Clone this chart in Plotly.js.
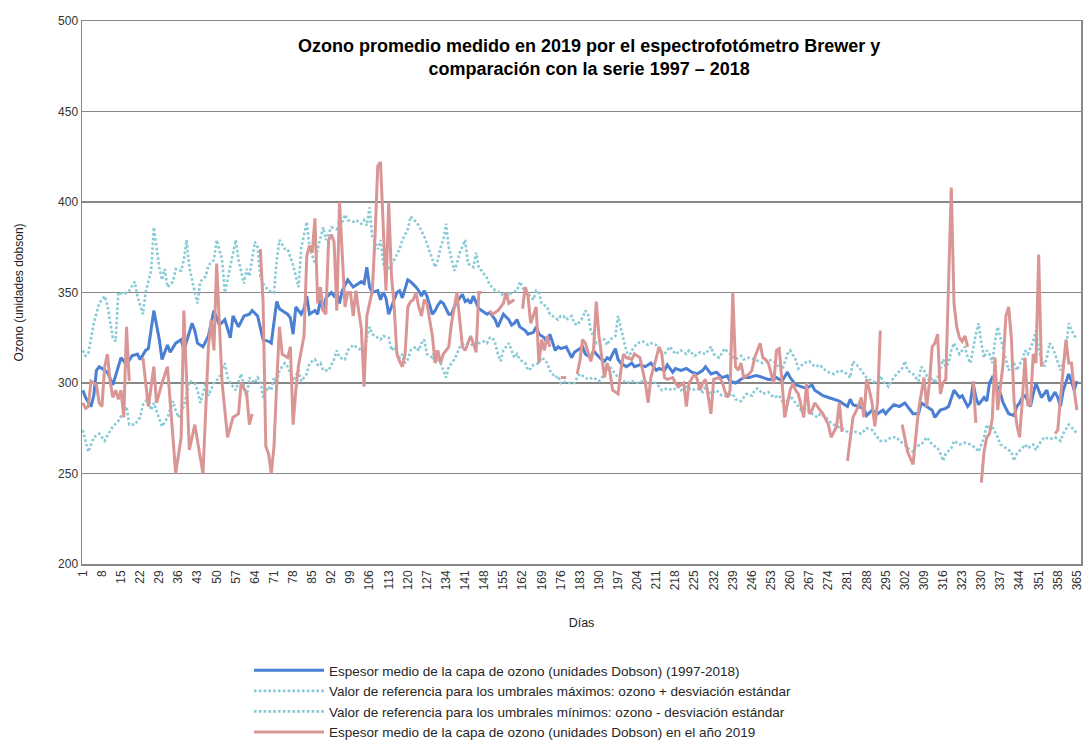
<!DOCTYPE html>
<html>
<head>
<meta charset="utf-8">
<script src="https://cdn.plot.ly/plotly-3.0.1.min.js"></script>
<style>html,body{margin:0;padding:0;background:#fff;}#chart{width:1085px;height:742px;}</style>
</head>
<body>
<div id="chart"></div>
<script>
// Tick labels of the day axis
const tickDays = [1,8,15,22,29,36,43,50,57,64,71,78,85,92,99,106,113,120,127,134,141,148,155,162,169,176,183,190,197,204,211,218,225,232,239,246,253,260,267,274,281,288,295,302,309,316,323,330,337,344,351,358,365];
const tickLabels = tickDays.map(String);

// Series names
const seriesNames = [
  'Espesor medio de la capa de ozono (unidades Dobson) (1997-2018)',
  'Valor de referencia para los umbrales máximos: ozono + desviación estándar',
  'Valor de referencia para los umbrales mínimos: ozono - desviación estándar',
  'Espesor medio de la capa de ozono (unidades Dobson) en el año 2019'
];

// [day, ozone DU]
const media19972018 = [[1,296],[2,292],[4,287],[5,293],[6,307],[7,309],[8,308],[10,306],[12,299],[14,309],[15,314],[17,310],[19,315],[21,316],[22,313],[24,318],[25,319],[27,340],[29,324],[30,313],[32,321],[33,317],[35,322],[37,324],[38,318],[41,333],[42,329],[43,322],[45,320],[47,326],[49,340],[51,332],[53,335],[55,325],[56,337],[58,331],[60,337],[62,338],[63,340],[65,337],[66,331],[67,324],[69,323],[70,322],[72,345],[73,341],[75,339],[76,338],[77,336],[78,327],[79,342],[81,338],[82,341],[83,348],[84,338],[86,340],[87,338],[88,346],[89,340],[90,347],[92,350],[93,348],[94,350],[95,344],[96,351],[98,357],[100,353],[101,354],[103,356],[104,355],[105,364],[106,353],[107,350],[109,351],[110,346],[111,350],[112,347],[113,338],[115,346],[116,350],[117,351],[118,347],[120,357],[121,356],[123,353],[124,351],[125,348],[126,351],[127,348],[129,338],[130,340],[131,343],[132,345],[133,344],[135,338],[136,338],[137,342],[138,345],[140,349],[141,345],[142,346],[143,344],[144,348],[146,341],[147,340],[149,338],[150,339],[152,335],[153,331],[154,335],[155,338],[157,335],[158,332],[159,333],[160,335],[161,331],[163,329],[164,327],[166,328],[167,331],[168,327],[170,325],[171,322],[172,327],[174,318],[175,320],[176,319],[178,320],[179,317],[180,314],[181,317],[183,319],[184,320],[185,316],[187,314],[188,318],[189,316],[191,313],[192,312],[193,314],[194,313],[196,319],[197,313],[198,311],[200,309],[201,310],[202,311],[203,309],[205,310],[207,309],[209,311],[211,307],[212,308],[214,307],[215,310],[217,306],[218,308],[220,307],[222,308],[224,306],[226,305],[228,307],[229,309],[231,305],[233,306],[235,303],[237,304],[238,301],[240,300],[241,301],[243,303],[245,303],[247,304],[248,304],[250,303],[252,302],[254,302],[255,303],[257,301],[259,306],[260,303],[262,299],[264,298],[266,297],[268,299],[269,296],[271,294],[272,293],[274,292],[276,291],[278,290],[279,289],[281,287],[282,291],[283,288],[285,287],[287,286],[288,282],[290,285],[292,283],[294,285],[295,283],[296,285],[298,288],[300,287],[302,289],[303,287],[305,283],[307,283],[308,289],[310,287],[312,285],[313,281],[315,285],[317,286],[318,287],[320,296],[321,294],[322,292],[323,293],[325,287],[326,289],[327,300],[328,292],[329,288],[331,292],[332,290],[333,300],[334,303],[335,301],[337,294],[338,289],[340,283],[342,282],[343,287],[344,289],[345,292],[346,293],[348,287],[349,294],[350,300],[351,296],[352,292],[353,294],[354,296],[355,290],[357,295],[358,292],[359,287],[360,296],[362,305],[363,301],[364,296],[365,301]];

const umbralMaximo = [[1,318],[2,315],[3,316],[5,333],[7,344],[9,348],[10,343],[12,325],[13,323],[14,350],[16,349],[18,351],[20,356],[21,348],[23,338],[24,350],[26,362],[27,386],[29,364],[30,357],[31,363],[32,353],[34,356],[35,363],[37,362],[38,368],[39,379],[40,364],[42,350],[43,344],[44,356],[46,359],[47,365],[49,368],[50,379],[52,368],[53,350],[55,364],[57,379],[58,368],[60,355],[61,363],[62,359],[64,378],[65,375],[66,359],[67,355],[69,351],[71,350],[72,368],[73,379],[75,374],[76,374],[78,365],[80,353],[81,375],[82,382],[83,389],[84,375],[86,366],[87,374],[88,380],[89,386],[90,379],[92,386],[94,385],[96,389],[97,393],[98,390],[100,389],[101,390],[103,388],[104,390],[105,387],[106,397],[107,381],[109,374],[110,379],[111,366],[112,361],[114,366],[115,368],[117,374],[118,379],[120,385],[121,392],[123,389],[124,387],[125,384],[126,381],[127,377],[129,368],[130,364],[131,368],[132,375],[133,379],[134,388],[135,375],[137,362],[138,366],[139,372],[141,379],[142,366],[144,364],[145,372],[146,364],[148,360],[149,358],[150,354],[151,353],[152,351],[154,350],[155,348],[156,350],[157,348],[158,350],[160,351],[161,356],[162,353],[163,350],[165,348],[166,346],[167,351],[168,350],[169,344],[171,342],[172,338],[173,337],[175,335],[176,337],[177,337],[178,335],[180,337],[181,333],[182,332],[184,336],[185,340],[186,338],[187,329],[188,326],[189,322],[191,324],[192,324],[193,321],[194,324],[196,326],[197,337],[199,324],[200,318],[201,314],[202,318],[204,322],[206,323],[208,321],[209,322],[211,321],[212,318],[214,316],[216,320],[218,316],[220,318],[222,316],[223,318],[225,315],[227,317],[229,316],[231,320],[232,316],[234,314],[236,319],[238,316],[240,313],[242,315],[243,313],[245,314],[247,313],[250,311],[252,313],[254,312],[256,309],[257,307],[259,316],[260,318],[262,313],[263,308],[265,311],[267,312],[269,309],[271,310],[272,308],[274,306],[276,305],[278,307],[280,306],[282,303],[283,312],[285,309],[287,305],[288,303],[290,301],[292,300],[293,304],[294,301],[296,298],[297,301],[299,305],[301,308],[302,312],[303,307],[305,305],[307,301],[308,309],[309,307],[311,301],[312,303],[313,300],[314,303],[316,313],[317,309],[318,311],[319,318],[320,322],[322,316],[323,318],[324,320],[325,314],[326,311],[328,327],[329,333],[330,322],[331,314],[332,318],[333,316],[334,311],[335,323],[336,331],[337,325],[339,314],[340,307],[342,311],[343,307],[345,313],[346,318],[347,316],[349,323],[350,329],[351,318],[353,309],[354,314],[355,322],[356,320],[357,316],[359,307],[360,311],[361,318],[362,333],[363,329],[365,324]];

const umbralMinimo = [[1,274],[2,268],[3,262],[4,266],[5,270],[7,272],[9,268],[10,271],[12,276],[14,279],[16,284],[17,287],[18,277],[20,277],[22,281],[23,288],[25,292],[26,285],[27,289],[29,281],[30,276],[32,281],[34,290],[35,285],[36,281],[38,287],[40,301],[42,300],[43,296],[44,289],[46,300],[47,293],[49,300],[51,303],[53,311],[54,303],[55,300],[57,296],[59,305],[61,292],[62,303],[64,300],[65,303],[66,301],[67,292],[69,298],[70,296],[71,303],[72,300],[73,307],[75,311],[76,309],[78,301],[80,307],[81,301],[83,305],[84,311],[86,313],[87,310],[88,311],[89,307],[91,307],[93,313],[94,318],[95,314],[97,313],[98,318],[100,321],[101,320],[103,318],[104,316],[105,325],[106,331],[107,327],[109,325],[110,324],[111,326],[113,325],[114,318],[115,320],[117,314],[118,316],[119,311],[120,313],[121,318],[123,320],[124,318],[125,322],[126,324],[127,316],[129,314],[130,318],[131,313],[132,311],[133,307],[134,303],[135,309],[137,313],[138,316],[139,320],[140,321],[141,322],[143,322],[144,320],[146,322],[148,323],[149,322],[150,325],[151,325],[152,322],[153,316],[154,312],[155,318],[157,322],[158,318],[159,314],[160,316],[161,313],[163,311],[164,307],[165,308],[166,310],[168,311],[169,314],[170,313],[171,311],[172,307],[174,303],[175,304],[176,300],[177,301],[178,300],[180,300],[181,300],[182,303],[183,305],[185,303],[186,302],[188,303],[190,301],[192,305],[194,309],[195,307],[197,303],[199,301],[200,300],[202,301],[204,300],[206,301],[208,300],[209,301],[211,300],[213,296],[215,297],[217,296],[219,298],[220,296],[222,298],[224,296],[226,297],[228,295],[229,298],[231,294],[233,296],[235,293],[237,293],[239,294],[240,291],[242,290],[244,294],[246,293],[247,296],[248,297],[250,294],[252,295],[254,292],[256,293],[257,290],[259,290],[260,293],[262,289],[264,285],[266,286],[268,283],[270,281],[271,283],[273,281],[275,278],[277,276],[279,275],[280,274],[282,272],[284,273],[286,272],[288,275],[290,274],[291,272],[293,268],[295,268],[297,270],[299,270],[300,268],[302,266],[303,264],[305,262],[306,265],[308,266],[309,268],[310,270],[312,266],[314,264],[315,261],[316,257],[317,261],[319,264],[320,268],[322,266],[324,267],[326,266],[328,264],[329,262],[331,270],[332,277],[333,274],[334,276],[336,270],[337,266],[339,264],[341,262],[342,257],[343,261],[345,264],[346,266],[347,264],[349,266],[350,263],[351,266],[353,270],[355,269],[357,270],[359,268],[360,272],[362,277],[364,274],[365,272]];

// null marks a gap with no measurement in 2019
const ozono2019 = [[1,289],[2,286],[3,287],[4,301],[6,299],[7,289],[8,287],[9,309],[10,316],[11,301],[12,292],[13,296],[14,291],[15,296],[16,281],[17,331],[18,301],[20,null],[23,314],[25,287],[27,309],[28,289],[30,300],[32,309],[34,270],[35,250],[37,270],[38,340],[40,263],[42,277],[43,268],[45,250],[47,320],[48,335],[49,318],[50,366],[52,300],[54,270],[56,281],[58,283],[59,300],[61,294],[62,277],[63,283],[64,null],[66,374],[67,345],[68,265],[69,261],[70,250],[71,265],[72,300],[73,331],[74,316],[75,315],[76,314],[77,320],[78,277],[79,296],[80,310],[81,318],[82,326],[83,370],[84,376],[85,372],[86,391],[87,344],[88,353],[89,340],[90,338],[91,379],[92,382],[93,378],[94,340],[95,400],[96,368],[97,342],[98,350],[99,350],[100,337],[101,351],[102,340],[103,330],[104,298],[105,337],[106,344],[107,351],[108,381],[109,420],[110,422],[111,383],[112,351],[113,400],[114,360],[115,342],[116,316],[117,312],[118,309],[119,316],[120,342],[121,345],[122,346],[123,350],[124,342],[125,337],[126,346],[127,344],[128,335],[129,326],[130,311],[131,318],[132,311],[133,316],[135,320],[136,333],[138,350],[139,333],[140,320],[141,318],[143,326],[144,322],[145,317],[146,350],[147,350],[148,null],[150,340],[151,338],[153,340],[155,344],[156,350],[157,344],[159,346],[160,null],[162,341],[163,353],[164,348],[165,333],[167,342],[168,311],[169,324],[170,318],[171,326],[172,320],[173,null],[176,303],[177,303],[178,303],[179,null],[182,305],[183,312],[184,324],[185,322],[187,312],[188,318],[189,345],[190,326],[192,303],[193,311],[194,306],[195,296],[197,294],[198,307],[199,316],[200,314],[202,313],[203,316],[205,314],[207,300],[208,289],[209,303],[211,314],[212,320],[213,316],[214,303],[215,302],[217,303],[218,300],[219,298],[221,300],[222,287],[223,300],[225,305],[226,302],[227,296],[228,300],[229,302],[231,283],[232,302],[234,303],[235,301],[236,296],[237,292],[238,296],[239,350],[240,309],[241,307],[242,311],[243,303],[245,305],[246,307],[247,314],[249,322],[250,314],[251,313],[252,311],[254,300],[255,318],[256,319],[257,301],[258,281],[260,296],[261,300],[262,296],[263,294],[265,281],[266,300],[267,283],[268,285],[269,289],[271,285],[272,283],[274,277],[275,270],[277,276],[278,289],[279,273],[280,null],[281,257],[283,281],[285,287],[286,292],[287,281],[288,302],[289,296],[290,289],[291,276],[292,289],[293,329],[294,null],[301,277],[303,262],[305,255],[306,271],[307,285],[309,303],[310,287],[311,300],[312,320],[313,322],[314,327],[315,294],[316,300],[317,302],[318,355],[319,408],[320,344],[321,331],[322,325],[323,323],[324,326],[325,320],[326,null],[327,301],[328,278],[329,null],[330,245],[331,262],[332,270],[333,272],[334,280],[335,314],[336,285],[337,300],[338,311],[339,337],[340,342],[341,325],[342,290],[343,277],[344,270],[345,290],[346,314],[347,288],[348,288],[349,316],[350,311],[351,371],[352,309],[353,null],[357,272],[358,274],[359,292],[360,309],[361,324],[362,311],[363,311],[364,296],[365,285]];

const FONT = 'Arial, "Liberation Sans", sans-serif';
const xs = a => a.map(p => p[0]);
const ys = a => a.map(p => p[1]);

const traces = [
  {x: xs(media19972018), y: ys(media19972018), name: seriesNames[0], type: 'scatter', mode: 'lines',
   line: {color: '#4A7FD4', width: 3}},
  {x: xs(umbralMaximo), y: ys(umbralMaximo), name: seriesNames[1], type: 'scatter', mode: 'lines',
   line: {color: '#88CAD6', width: 2.6, dash: '2.6px,2.2px'}},
  {x: xs(umbralMinimo), y: ys(umbralMinimo), name: seriesNames[2], type: 'scatter', mode: 'lines',
   line: {color: '#88CAD6', width: 2.6, dash: '2.6px,2.2px'}},
  {x: xs(ozono2019), y: ys(ozono2019), name: seriesNames[3], type: 'scatter', mode: 'lines',
   connectgaps: false, line: {color: '#D99694', width: 3}}
];

const layout = {
  width: 1085, height: 742,
  margin: {l: 82, r: 4, t: 21, b: 178, autoexpand: false},
  paper_bgcolor: '#ffffff', plot_bgcolor: '#ffffff',
  font: {family: FONT, color: '#404040', size: 12},
  showlegend: true,
  title: {
    text: '<b>Ozono promedio medido en 2019 por el espectrofotómetro Brewer y<br>comparación con la serie 1997 – 2018</b>',
    font: {family: FONT, size: 18, color: '#000000'},
    x: 0.543, xanchor: 'center', xref: 'container',
    y: 1 - 52 / 742, yanchor: 'top', yref: 'container'
  },
  xaxis: {
    range: [0.7, 366.5], tickmode: 'array', tickvals: tickDays, ticktext: tickLabels,
    tickangle: -90, ticks: '', showgrid: false, zeroline: false, automargin: false,
    ticklabeloverflow: 'allow',
    showline: true, linecolor: '#878787', linewidth: 1.5, mirror: true,
    tickfont: {family: FONT, size: 12, color: '#333333'},
    title: {text: 'Días', font: {family: FONT, size: 12.5, color: '#222222'}, standoff: 29}
  },
  yaxis: {
    range: [200, 500], tickmode: 'linear', tick0: 200, dtick: 50, ticks: '',
    showgrid: true, gridcolor: '#878787', gridwidth: 1.3, zeroline: false, automargin: false,
    showline: true, linecolor: '#878787', linewidth: 1.5, mirror: true,
    tickfont: {family: FONT, size: 12, color: '#333333'},
    title: {text: 'Ozono (unidades dobson)', font: {family: FONT, size: 12, color: '#222222'}, standoff: 32}
  },
  legend: {
    x: (249 - 82) / 999, xanchor: 'left', y: -0.1676, yanchor: 'top',
    font: {family: FONT, size: 13.5, color: '#262626'},
    itemwidth: 70,
    bgcolor: 'rgba(0,0,0,0)', tracegroupgap: 0, traceorder: 'normal'
  }
};

Plotly.newPlot('chart', traces, layout, {displayModeBar: false, staticPlot: true});
</script>
</body>
</html>
